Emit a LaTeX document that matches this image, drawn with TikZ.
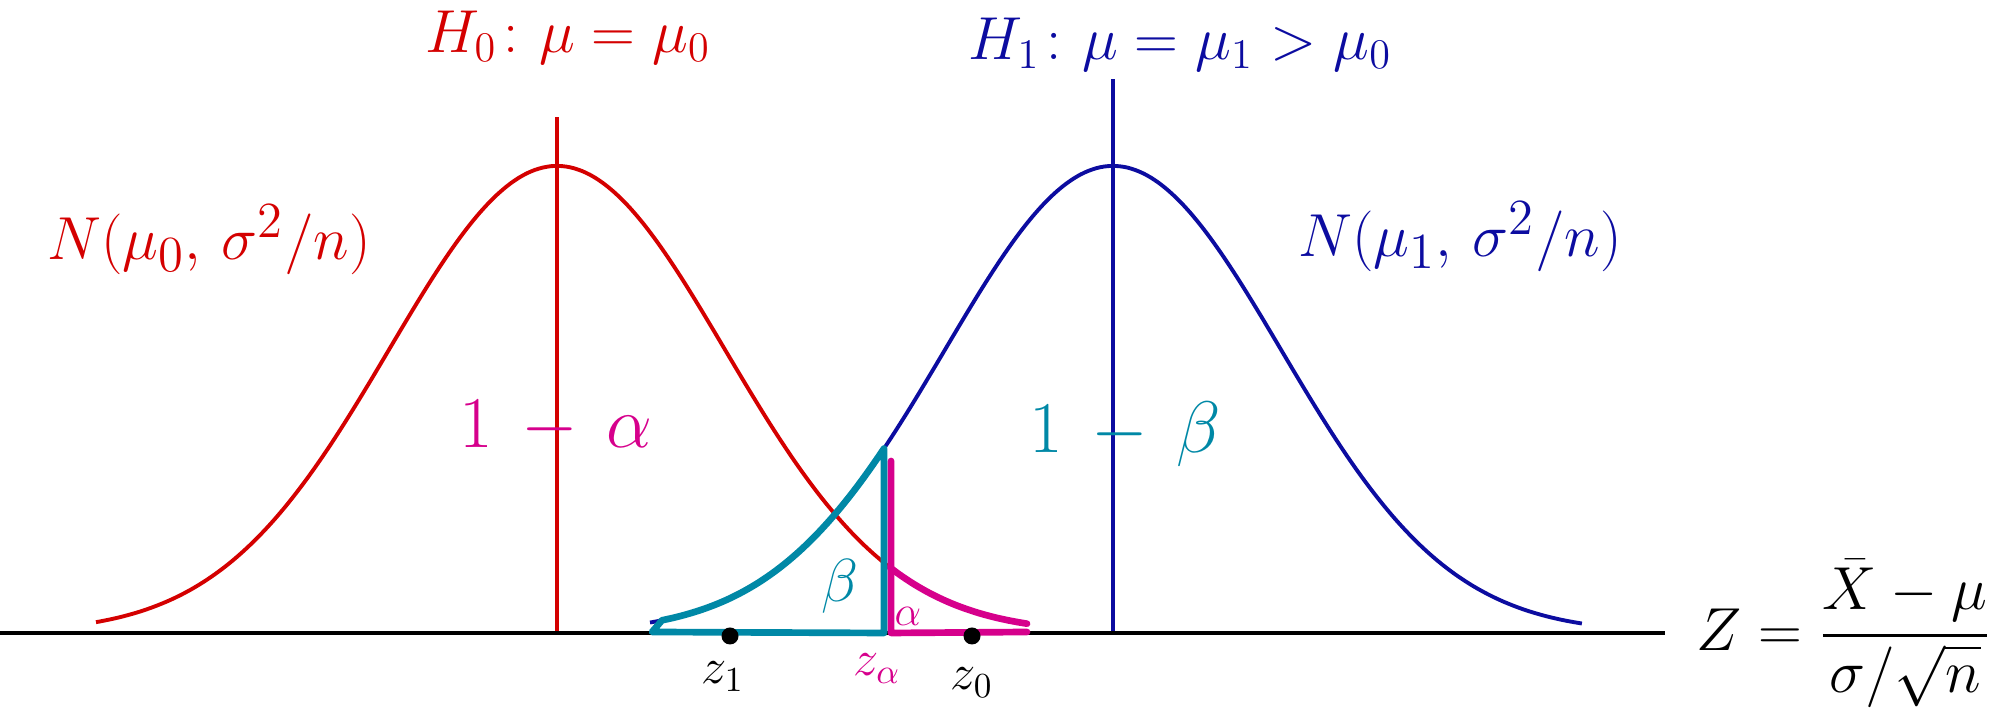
\documentclass[tikz,border=0pt]{standalone}
\usepackage{xcolor}
\usepackage{amsmath,amssymb}
\usetikzlibrary{positioning}
\definecolor{nullred}{RGB}{212,0,0}
\definecolor{altblue}{RGB}{12,12,160}
\definecolor{alphamag}{RGB}{214,0,140}
\definecolor{betateal}{RGB}{0,136,166}

\begin{document}
\begin{tikzpicture}[x=1cm, y=1cm,
    curve/.style={line width=1.1pt, line join=round},
    area/.style={line width=1.9pt, line join=round, line cap=round},
    lbl/.style={inner sep=0pt, font=\fontsize{18}{21}\selectfont},
    zlbl/.style={inner sep=0pt, font=\fontsize{14}{16}\selectfont},
    dot/.style={circle, fill=black, inner sep=0pt, minimum size=0.17cm},
    declare function={gauss(\t,\m)=0.81+4.67*exp(-((\t-\m)*(\t-\m))/5.645);}]
    \useasboundingbox (0,0) rectangle (20,7.14);
    \coordinate (origin) at (0,0.81);
    \coordinate (axisend) at (16.65,0.81);
    \coordinate (mu0) at (5.57,0.81);
    \coordinate (mu1) at (11.13,0.81);
    \coordinate (zalpha) at (8.84,0.81);
    % the two densities
    \draw[curve, nullred] plot[domain=0.96:10.29, samples=120, smooth] (\x,{gauss(\x,5.57)});
    \draw[curve, altblue] plot[domain=6.5:15.82, samples=120, smooth] (\x,{gauss(\x,11.13)});
    \draw[curve, nullred] (mu0) -- ++(0,5.16);
    \draw[curve, altblue] (mu1) -- ++(0,5.54);
    \draw[line width=1.2pt] (origin) -- (axisend);
    % alpha and beta areas
    \draw[area, alphamag] ([xshift=2pt]zalpha) ++(0,1.72) -- ([xshift=2pt]zalpha) -- (10.27,0.82);
    \draw[area, alphamag] plot[domain=8.9:10.27, samples=30, smooth] (\x,{gauss(\x,5.57)});
    \draw[area, betateal] plot[domain=6.62:8.84, samples=40, smooth] (\x,{gauss(\x,11.13)}) -- (zalpha) -- (6.52,0.82) -- cycle;
    \node[dot] (z1) at (7.30,0.78) {};
    \node[dot] (z0) at (9.72,0.78) {};
    \node[zlbl, below=0.16cm of z1, xshift=-2pt] (z1lbl) {$z_1$};
    \node[zlbl, below=0.2cm of zalpha, xshift=-2pt, alphamag] (zalbl) {$z_\alpha$};
    \node[zlbl, below=0.22cm of z0] (z0lbl) {$z_0$};
    % labels
    \node[lbl, nullred] (h0) at (5.68,6.76) {$H_0\colon \mu=\mu_0$};
    \node[lbl, altblue] (h1) at (11.80,6.69) {$H_1\colon \mu=\mu_1>\mu_0$};
    \node[lbl, nullred, font=\fontsize{19}{22}\selectfont] (n0) at (2.09,4.74) {$N(\mu_0,\,\sigma^2/n)$};
    \node[lbl, altblue, font=\fontsize{19}{22}\selectfont] (n1) at (14.60,4.77) {$N(\mu_1,\,\sigma^2/n)$};
    \node[lbl, alphamag, font=\fontsize{22}{25}\selectfont] (power0) at (5.56,2.87) {$1\,-\,\alpha$};
    \node[lbl, betateal, font=\fontsize{22}{25}\selectfont] (power1) at (11.25,2.80) {$1\,-\,\beta$};
    \node[lbl, betateal, font=\fontsize{16}{18}\selectfont] (beta) at (8.40,1.28) {$\beta$};
    \node[lbl, alphamag, font=\fontsize{12}{14}\selectfont] (alpha) at (9.08,0.98) {$\alpha$};
    \node[lbl, anchor=east] (zstat) at (19.92,0.80) {$Z=\dfrac{\bar{X}-\mu}{\sigma/\sqrt{n}}$};
\end{tikzpicture}
\end{document}
